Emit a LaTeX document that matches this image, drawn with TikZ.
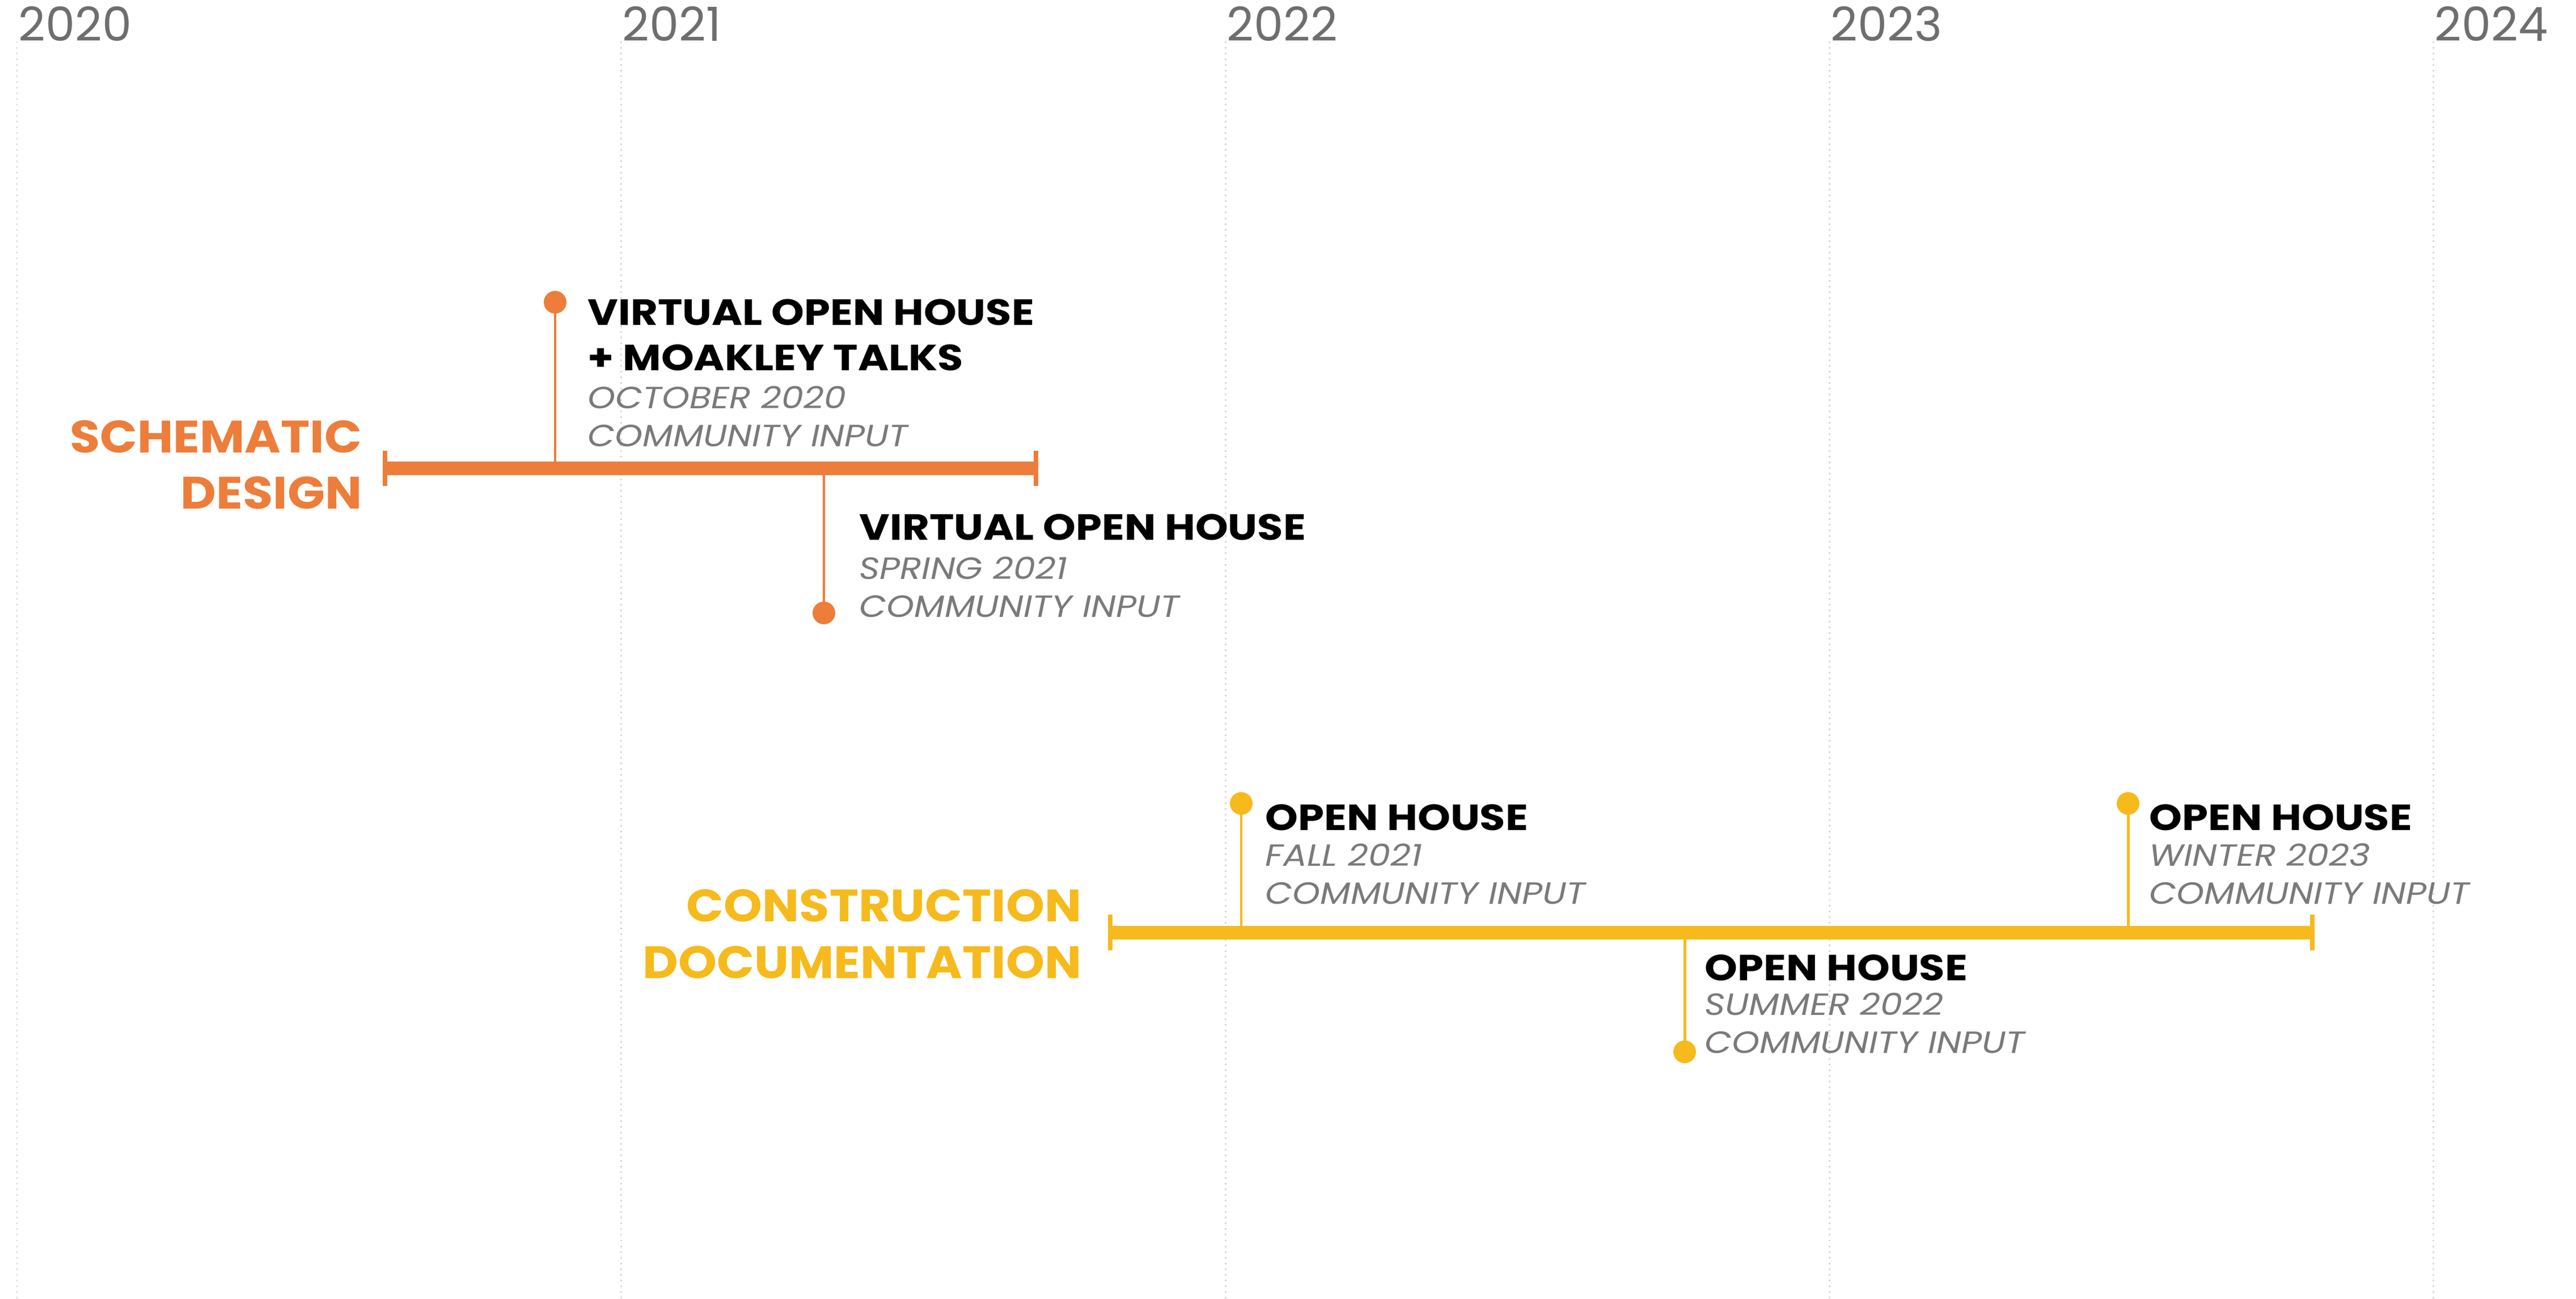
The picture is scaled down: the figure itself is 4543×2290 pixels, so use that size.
\documentclass[tikz,border=0pt]{standalone}
\usepackage{fontspec}
\setmainfont{Poppins}
\newfontfamily\headfont{Poppins}[FakeStretch=1.145]
\newfontfamily\subfont{Poppins}[FakeStretch=1.15]
\newfontfamily\catfont{Poppins}[FakeStretch=1.08]
\definecolor{orangeC}{HTML}{ED7D3A}
\definecolor{yellowC}{HTML}{F6BA1D}
\definecolor{subgrey}{HTML}{7A7A7A}
\definecolor{yeargrey}{HTML}{6E6E6E}
\definecolor{gridgrey}{HTML}{D9D9D9}
\tikzset{
  yearlbl/.style={anchor=base west,inner sep=0pt,text=yeargrey,font=\fontsize{23.6}{28}\selectfont},
  gridln/.style={draw=gridgrey,line width=0.85pt,dotted},
  catlbl/.style={anchor=base east,inner sep=0pt,font=\catfont\bfseries\fontsize{22.8}{27}\selectfont},
  headlbl/.style={anchor=base west,inner sep=0pt,text=black,font=\headfont\bfseries\fontsize{18.3}{22}\selectfont},
  sublbl/.style={anchor=base west,inner sep=0pt,text=subgrey,font=\subfont\itshape\fontsize{15.4}{18}\selectfont},
  barln/.style={line width=6.6pt},
  tickln/.style={line width=2.3pt},
  stemln/.style={line width=1.4pt},
  dotnd/.style={circle,inner sep=0pt,minimum size=4mm},
}
\begin{document}
\begin{tikzpicture}[x=0.1mm,y=-0.1mm]
\useasboundingbox (0,0) rectangle (4543,2290);
% grid and years
\foreach \gx/\yr [count=\i] in {30/2020,1095/2021,2161/2022,3226/2023,4291/2024}{
  \coordinate (gt\i) at (\gx,73);
  \coordinate (gb\i) at (\gx,2290);
  \draw[gridln] (gt\i) -- (gb\i);
  \node[yearlbl] (yr\i) at (\gx+2,73) {\yr};
}
% ---------- Schematic design ----------
\coordinate (sL) at (679,826);
\coordinate (sR) at (1827,826);
\draw[orangeC,barln] (sL) -- (sR);
\coordinate (sLt) at (679,795); \coordinate (sLb) at (679,857);
\coordinate (sRt) at (1827,795); \coordinate (sRb) at (1827,857);
\draw[orangeC,tickln] (sLt) -- (sLb);
\draw[orangeC,tickln] (sRt) -- (sRb);
\node[catlbl,text=orangeC] (sd1) at (639,798) {SCHEMATIC};
\node[catlbl,text=orangeC] (sd2) at (639,897) {DESIGN};
% event 1
\coordinate (s1) at (979,826);
\node[dotnd,fill=orangeC] (d1) at (979,533) {};
\draw[orangeC,stemln] (s1) -- (d1.center);
\node[headlbl] (e1a) at (1036,573) {VIRTUAL OPEN HOUSE};
\node[headlbl] (e1b) at (1036,653) {+ MOAKLEY TALKS};
\node[sublbl] (e1c) at (1036,720) {OCTOBER 2020};
\node[sublbl] (e1d) at (1036,787) {COMMUNITY INPUT};
% event 2
\coordinate (s2) at (1453,826);
\node[dotnd,fill=orangeC] (d2) at (1453,1081) {};
\draw[orangeC,stemln] (s2) -- (d2.center);
\node[headlbl] (e2a) at (1515,952) {VIRTUAL OPEN HOUSE};
\node[sublbl] (e2b) at (1515,1021) {SPRING 2021};
\node[sublbl] (e2c) at (1515,1088) {COMMUNITY INPUT};
% ---------- Construction documentation ----------
\coordinate (cL) at (1958,1645);
\coordinate (cR) at (4078,1645);
\draw[yellowC,barln] (cL) -- (cR);
\coordinate (cLt) at (1958,1613); \coordinate (cLb) at (1958,1676);
\coordinate (cRt) at (4078,1613); \coordinate (cRb) at (4078,1676);
\draw[yellowC,tickln] (cLt) -- (cLb);
\draw[yellowC,tickln] (cRt) -- (cRb);
\node[catlbl,text=yellowC] (cd1) at (1908,1625) {CONSTRUCTION};
\node[catlbl,text=yellowC] (cd2) at (1908,1725) {DOCUMENTATION};
% event 3
\coordinate (s3) at (2189,1645);
\node[dotnd,fill=yellowC] (d3) at (2189,1417) {};
\draw[yellowC,stemln] (s3) -- (d3.center);
\node[headlbl] (e3a) at (2231,1464) {OPEN HOUSE};
\node[sublbl] (e3b) at (2231,1527) {FALL 2021};
\node[sublbl] (e3c) at (2231,1594) {COMMUNITY INPUT};
% event 4
\coordinate (s4) at (2971,1645);
\node[dotnd,fill=yellowC] (d4) at (2971,1855) {};
\draw[yellowC,stemln] (s4) -- (d4.center);
\node[headlbl] (e4a) at (3006,1729) {OPEN HOUSE};
\node[sublbl] (e4b) at (3006,1790) {SUMMER 2022};
\node[sublbl] (e4c) at (3006,1857) {COMMUNITY INPUT};
% event 5
\coordinate (s5) at (3753,1645);
\node[dotnd,fill=yellowC] (d5) at (3753,1417) {};
\draw[yellowC,stemln] (s5) -- (d5.center);
\node[headlbl] (e5a) at (3790,1464) {OPEN HOUSE};
\node[sublbl] (e5b) at (3790,1527) {WINTER 2023};
\node[sublbl] (e5c) at (3790,1594) {COMMUNITY INPUT};
\end{tikzpicture}
\end{document}
